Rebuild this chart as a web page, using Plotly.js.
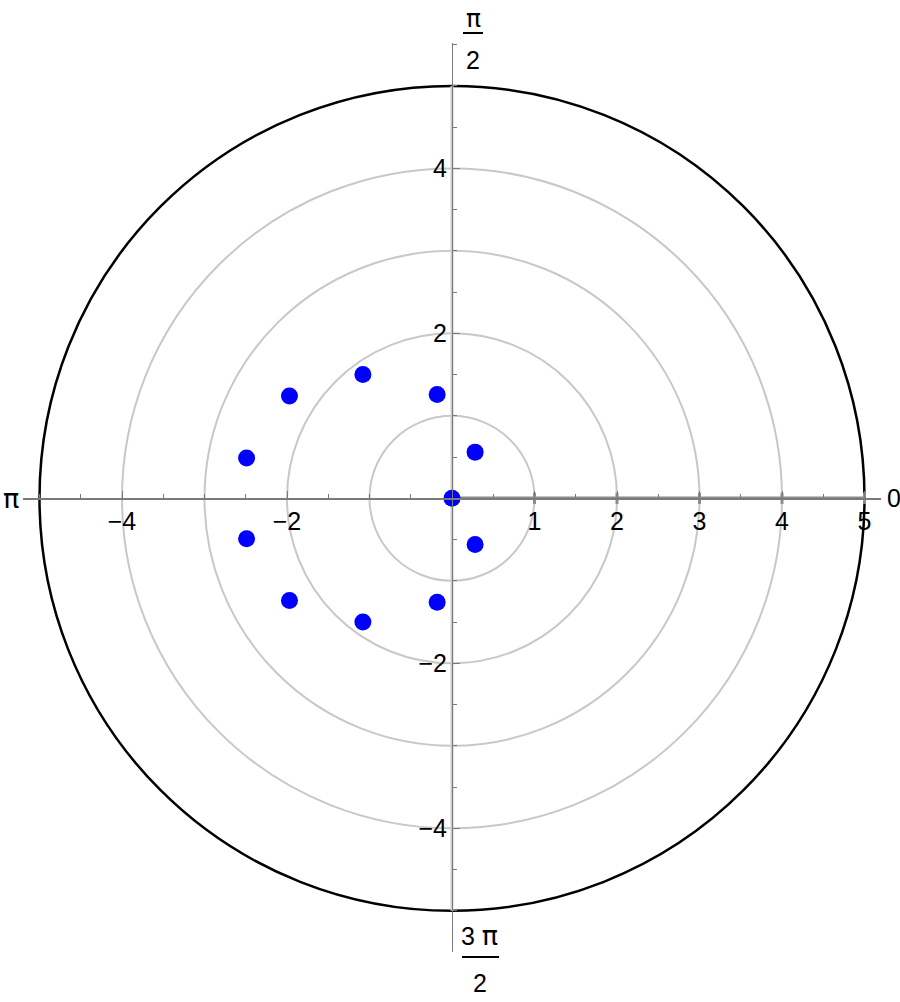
<!DOCTYPE html>
<html>
<head>
<meta charset="utf-8">
<script src="https://cdn.plot.ly/plotly-3.0.1.min.js"></script>
<style>body{margin:0;background:#fff}</style>
</head>
<body>
<div id="plot" style="width:900px;height:1002px"></div>
<script>
// points (cartesian x, y)
var ptX = [0, 0.28, 0.28, -0.18, -0.18, -1.08, -1.08, -1.97, -1.97, -2.49, -2.49];
var ptY = [0, 0.56, -0.56, 1.26, -1.26, 1.50, -1.50, 1.24, -1.24, 0.49, -0.49];

var gridRadii = [1, 2, 3, 4];
var outerRadius = 5;
var radialTicks = [1, 2, 3, 4, 5];
var xTicks = [-4, -2];
var yTicks = [-4, -2, 2, 4];

var font = "Liberation Sans, Arial, sans-serif";
var piFont = "DejaVu Sans, sans-serif";
var axisGray = "#7a7a7a";

function lbl(v) { return v < 0 ? "\u2212" + Math.abs(v) : String(v); }

var shapes = gridRadii.map(function (r) {
  return {type: "circle", xref: "x", yref: "y", x0: -r, y0: -r, x1: r, y1: r,
          line: {color: "#c8c8c8", width: 2}, layer: "below"};
});
shapes.push({type: "circle", xref: "x", yref: "y", x0: -outerRadius, y0: -outerRadius,
             x1: outerRadius, y1: outerRadius, line: {color: "#000", width: 2.5}, layer: "below"});
// fraction bars for pi/2 and 3pi/2
shapes.push({type: "line", xref: "paper", yref: "paper", x0: 0.5128, x1: 0.5361, y0: 1.011, y1: 1.011,
             line: {color: "#000", width: 2}});
shapes.push({type: "line", xref: "paper", yref: "paper", x0: 0.5117, x1: 0.5548, y0: -0.0055, y1: -0.0055,
             line: {color: "#000", width: 2}});

var afont = {family: font, size: 25, color: "#000"};
var pfont = {family: piFont, size: 27, color: "#000"};
var pfontTop = {family: piFont, size: 25, color: "#000"};
function ann(x, y, text, xanchor, xshift, f) {
  return {xref: "paper", yref: "paper", x: x, y: y, text: text, xanchor: xanchor, yanchor: "middle",
          xshift: xshift, showarrow: false, font: f};
}
var annotations = [
  ann(1, 0.4991, "0", "left", 4, afont),
  ann(0, 0.4991, "π", "right", -2, pfont),
  ann(0.5, 1.0275, "π", "center", 21, pfontTop),
  ann(0.5, 0.9813, "2", "center", 21, afont),
  ann(0.5, 0.0187, "3 <span style='font-family:DejaVu Sans;font-size:27px'>π</span>", "center", 27, afont),
  ann(0.5, -0.0341, "2", "center", 28, afont)
];

var traces = [
  {x: [0, 0], y: [-outerRadius, outerRadius], mode: "lines", line: {color: "#cccccc", width: 3},
   hoverinfo: "skip", showlegend: false},
  {x: [0, outerRadius], y: [0, 0], mode: "lines", line: {color: "#8c8c8c", width: 3.5},
   hoverinfo: "skip", showlegend: false, cliponaxis: false},
  {x: radialTicks, y: radialTicks.map(function () { return 0; }), mode: "markers",
   marker: {symbol: "line-ns", size: 8, line: {color: "#8c8c8c", width: 3}},
   hoverinfo: "skip", showlegend: false},
  {x: ptX, y: ptY, mode: "markers", type: "scatter",
   marker: {color: "rgb(0,0,255)", size: 17}, showlegend: false}
];

var tickX = xTicks.concat(radialTicks);

var layout = {
  width: 900, height: 1002,
  margin: {l: 23, r: 19, t: 43, b: 50},
  paper_bgcolor: "#fff", plot_bgcolor: "#fff",
  showlegend: false,
  xaxis: {
    range: [-5.2, 5.2], anchor: "free", position: 0.4991,
    showline: true, linecolor: axisGray, linewidth: 1.3,
    showgrid: false, zeroline: false,
    tickmode: "array", tickvals: tickX, ticktext: tickX.map(lbl),
    ticks: "inside", ticklen: 7, tickcolor: axisGray, tickwidth: 1,
    minor: {tickmode: "linear", tick0: 0, dtick: 0.5, ticks: "inside", ticklen: 4, tickcolor: axisGray},
    tickfont: {family: font, size: 25, color: "#000"}
  },
  yaxis: {
    range: [-5.5, 5.52], anchor: "free", position: 0.5,
    showline: true, linecolor: axisGray, linewidth: 1.3,
    showgrid: false, zeroline: false,
    tickmode: "array", tickvals: yTicks, ticktext: yTicks.map(lbl),
    ticks: "inside", ticklen: 7, tickcolor: axisGray, tickwidth: 1,
    minor: {tickmode: "linear", tick0: 0, dtick: 0.5, ticks: "inside", ticklen: 4, tickcolor: axisGray},
    tickfont: {family: font, size: 25, color: "#000"}
  },
  shapes: shapes,
  annotations: annotations
};

Plotly.newPlot("plot", traces, layout, {displayModeBar: false, staticPlot: true});
</script>
</body>
</html>
